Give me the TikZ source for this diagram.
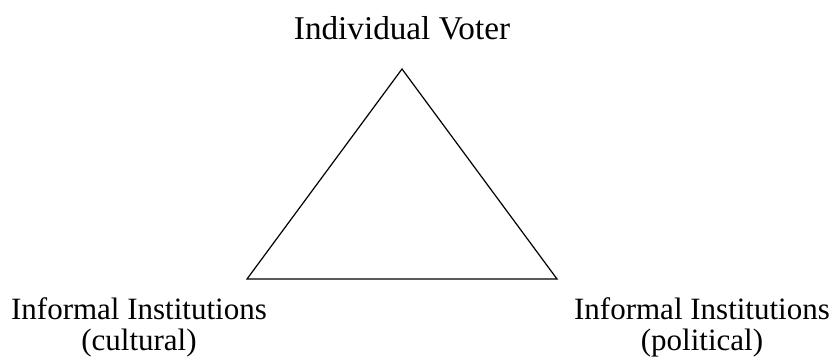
\documentclass[tikz,border=0pt]{standalone}
\usepackage{fontspec}
\setmainfont{Liberation Serif}
\usetikzlibrary{positioning}
\tikzset{
  node-label/.style={align=center,inner sep=0pt,font=\fontsize{15.5}{15.5}\selectfont},
  node-top/.style={node-label,font=\fontsize{16.6}{18}\selectfont},
  edge-line/.style={draw=black,line width=0.6pt,line join=miter},
}

\begin{document}
\begin{tikzpicture}[x=0.5pt,y=-0.5pt]
  \useasboundingbox (0,0) rectangle (833,359);
  \coordinate (voter) at (402,69);
  \coordinate (cult) at (247,279);
  \coordinate (pol) at (557,279);

  \node[node-top] (voter-lbl) at (402,28) {Individual Voter};
  \node[node-label] (cult-lbl) at (139,327) {Informal Institutions\\(cultural)};
  \node[node-label] (pol-lbl) at (702,327) {Informal Institutions\\(political)};

  \draw[edge-line] (voter) -- (cult) -- (pol) -- cycle;
\end{tikzpicture}
\end{document}
